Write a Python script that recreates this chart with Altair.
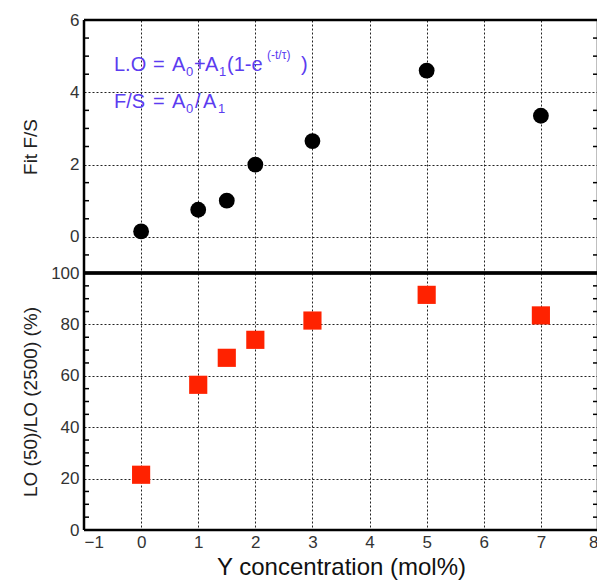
import altair as alt
import pandas as pd

# ---- data ----
x_conc = [0, 1, 1.5, 2, 3, 5, 7]
fit_fs = [0.15, 0.75, 1.0, 2.0, 2.65, 4.6, 3.35]
lo_ratio = [21.5, 56.5, 67, 74, 81.5, 91.5, 83.5]

x_ticks = [-1, 0, 1, 2, 3, 4, 5, 6, 7, 8]
fs_ticks = [0, 2, 4, 6]
lo_ticks = [0, 20, 40, 60, 80, 100]
fs_minor = [-0.5, 0.5, 1, 1.5, 2.5, 3, 3.5, 4.5, 5, 5.5]
lo_minor = [5, 10, 15, 25, 30, 35, 45, 50, 55, 65, 70, 75, 85, 90, 95]

# annotation pieces: (text, x px, baseline y px, font size) relative to top plot origin
eq_pieces = [
    ("L.O", 30, 51, 20), ("=", 69, 51, 20), ("A", 88, 51, 20), ("0", 102, 56, 13),
    ("+", 110, 51, 20), ("A", 121, 51, 20), ("1", 135, 56, 13), ("(1-e", 143, 51, 20),
    ("(-t/\u03c4)", 183, 39, 12), (")", 217, 51, 20),
    ("F/S", 30, 88, 20), ("=", 69, 88, 20), ("A", 88, 88, 20), ("0", 102, 93, 13),
    ("/", 111, 88, 20), ("A", 119, 88, 20), ("1", 134, 93, 13),
]

W = 514
H1 = 253
H2 = 257
FONT = "Liberation Sans"
TXT_COLOR = "#5b3cf0"

df_fs = pd.DataFrame({"x": x_conc, "fs": fit_fs})
df_lo = pd.DataFrame({"x": x_conc, "lo": lo_ratio})
df_fs_minor = pd.DataFrame({"fs": fs_minor})
df_lo_minor = pd.DataFrame({"lo": lo_minor})
one = pd.DataFrame({"t": [0]})

xscale = alt.Scale(domain=[-1, 8], nice=False, zero=False)
grid_kw = dict(grid=True, gridDash=[2, 2], gridColor="#222", gridWidth=1, gridOpacity=1)
yaxis_kw = dict(ticks=False, domain=False, labelPadding=5, minExtent=38, maxExtent=38,
                titlePadding=6, titleFontWeight="normal", titleFontSize=19,
                labelFontSize=17, labelColor="#333", titleColor="#222", **grid_kw)


def frame(h):
    rules = []
    for enc in (
        dict(x=alt.value(0), x2=alt.value(W), y=alt.value(0)),
        dict(x=alt.value(0), x2=alt.value(W), y=alt.value(h)),
        dict(x=alt.value(0), y=alt.value(0), y2=alt.value(h)),
        dict(x=alt.value(W), y=alt.value(0), y2=alt.value(h)),
    ):
        rules.append(alt.Chart(one).mark_rule(color="black", strokeWidth=2.5).encode(**enc))
    return rules


x_top = alt.X("x:Q", scale=xscale,
              axis=alt.Axis(values=x_ticks, labels=False, ticks=False, domain=False, title=None, **grid_kw))
y_top = alt.Y("fs:Q", scale=alt.Scale(domain=[-1, 6], nice=False, zero=False),
              axis=alt.Axis(values=fs_ticks, title="Fit F/S", **yaxis_kw))

top_pts = alt.Chart(df_fs).mark_circle(size=250, color="black", opacity=1).encode(x=x_top, y=y_top)
top_lt = alt.Chart(df_fs_minor).mark_rule(color="black", strokeWidth=1.5).encode(
    y=y_top, x=alt.value(0), x2=alt.value(5))
top_rt = alt.Chart(df_fs_minor).mark_rule(color="black", strokeWidth=1.5).encode(
    y=y_top, x=alt.value(W - 5), x2=alt.value(W))

txt_layers = []
for t, px, py, s in eq_pieces:
    txt_layers.append(
        alt.Chart(pd.DataFrame({"t": [t]})).mark_text(
            align="left", baseline="alphabetic", font=FONT, fontSize=s, color=TXT_COLOR
        ).encode(x=alt.value(px), y=alt.value(py), text="t:N")
    )

top = alt.layer(top_pts, top_lt, top_rt, *frame(H1), *txt_layers).properties(width=W, height=H1)

x_bot = alt.X("x:Q", scale=xscale,
              axis=alt.Axis(values=x_ticks, ticks=False, domain=False, labelPadding=4,
                            labelFontSize=17, labelColor="#333",
                            title="Y concentration (mol%)", titleFontSize=24,
                            titleFontWeight="normal", titlePadding=5, titleColor="#111",
                            **grid_kw))
y_bot = alt.Y("lo:Q", scale=alt.Scale(domain=[0, 100], nice=False, zero=False),
              axis=alt.Axis(values=lo_ticks, title="LO (50)/LO (2500) (%)", **yaxis_kw))

bot_pts = alt.Chart(df_lo).mark_square(size=330, color="#ff2200", opacity=1).encode(x=x_bot, y=y_bot)
bot_lt = alt.Chart(df_lo_minor).mark_rule(color="black", strokeWidth=1.5).encode(
    y=y_bot, x=alt.value(0), x2=alt.value(5))
bot_rt = alt.Chart(df_lo_minor).mark_rule(color="black", strokeWidth=1.5).encode(
    y=y_bot, x=alt.value(W - 5), x2=alt.value(W))
sep = alt.Chart(one).mark_rule(color="black", strokeWidth=3.5).encode(
    x=alt.value(0), x2=alt.value(W), y=alt.value(0))

bot = alt.layer(bot_pts, bot_lt, bot_rt, *frame(H2), sep).properties(width=W, height=H2)

chart = alt.vconcat(top, bot, spacing=0, bounds="flush").properties(
    padding={"left": 12, "top": 2, "right": -4, "bottom": 0}
).configure_view(stroke=None).configure_axis(
    labelFont=FONT, titleFont=FONT
).configure(background="white")

chart.save("out.html", embed_options={"renderer": "svg", "actions": False})
